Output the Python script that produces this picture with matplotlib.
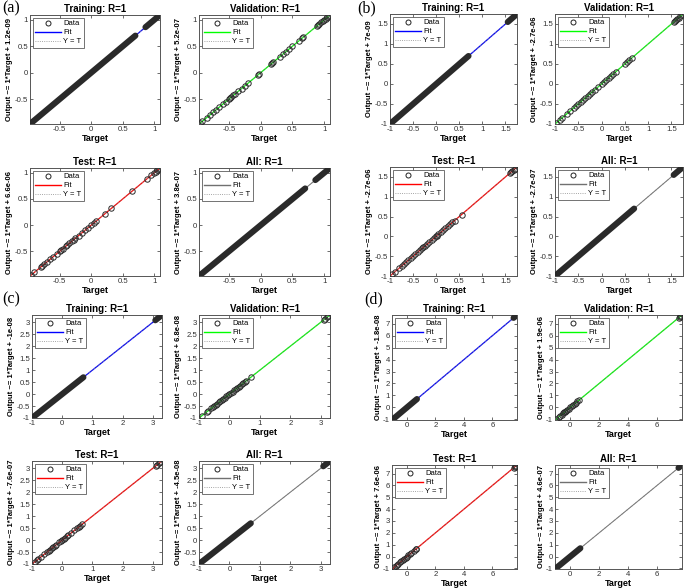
import matplotlib
matplotlib.use("Agg")
import matplotlib.pyplot as plt
from matplotlib.lines import Line2D

plt.rcParams['font.family'] = ['Liberation Sans', 'DejaVu Sans']

W, H = 685, 588

# ---------------- data ----------------
panel_names = ["a", "b", "c", "d"]
subplot_names = ["Training", "Validation", "Test", "All"]
fit_colors = {"Training": "#0000ff", "Validation": "#00ff00", "Test": "#ff0000", "All": "#707070"}

limits = {"a": (-0.97, 1.09), "b": (-1.0, 1.75), "c": (-1.0, 3.3), "d": (-1.05, 7.72)}
xticks = {"a": [-0.5, 0, 0.5, 1], "b": [-1, -0.5, 0, 0.5, 1, 1.5],
          "c": [-1, 0, 1, 2, 3], "d": [0, 2, 4, 6]}
yticks = {"a": [-0.5, 0, 0.5, 1], "b": [-1, -0.5, 0, 0.5, 1, 1.5],
          "c": [-1, -0.5, 0, 0.5, 1, 1.5, 2, 2.5, 3], "d": [-1, 0, 1, 2, 3, 4, 5, 6, 7]}

# dense target ranges (training / all), packed circles
dense_ranges = {
    "a": [(-0.96, 0.70), (0.86, 1.08)],
    "b": [(-1.00, 0.70), (1.55, 1.72)],
    "c": [(-1.00, 0.70), (3.08, 3.27)],
    "d": [(-1.00, 0.70), (7.48, 7.66)],
}

val_targets = {
    "a": [-0.95, -0.92, -0.85, -0.8, -0.75, -0.7, -0.65, -0.6, -0.55, -0.5, -0.48, -0.46,
          -0.43, -0.4, -0.35, -0.3, -0.25, -0.2, -0.05, -0.03, 0.17, 0.18, 0.2, 0.3, 0.35,
          0.4, 0.45, 0.5, 0.6, 0.65, 0.67, 0.88, 0.9, 0.92, 0.95, 0.98, 1.0, 1.02, 1.05, 1.07],
    "b": [-0.97, -0.9, -0.85, -0.75, -0.68, -0.6, -0.55, -0.5, -0.45, -0.4, -0.36, -0.3,
          -0.25, -0.2, -0.15, -0.08, 0.0, 0.05, 0.1, 0.15, 0.2, 0.25, 0.3, 0.5, 0.55, 0.6,
          0.65, 1.55, 1.58, 1.6, 1.63, 1.66, 1.69, 1.72],
    "c": [-0.9, -0.75, -0.7, -0.6, -0.55, -0.5, -0.45, -0.4, -0.35, -0.3, -0.25, -0.2, -0.15,
          -0.1, -0.05, 0.0, 0.05, 0.1, 0.15, 0.2, 0.25, 0.3, 0.35, 0.4, 0.45, 0.5, 0.55, 0.7,
          3.1, 3.15, 3.2, 3.25],
    "d": [-0.95, -0.8, -0.7, -0.6, -0.5, -0.4, -0.35, -0.3, -0.2, -0.1, 0.0, 0.1, 0.2, 0.3,
          0.4, 0.5, 0.6, 7.5, 7.55, 7.6, 7.65],
}

test_targets = {
    "a": [-0.95, -0.9, -0.8, -0.78, -0.75, -0.7, -0.65, -0.6, -0.55, -0.5, -0.48, -0.45,
          -0.4, -0.38, -0.35, -0.3, -0.28, -0.25, -0.2, -0.15, -0.1, -0.05, 0.0, 0.05, 0.08,
          0.22, 0.32, 0.65, 0.88, 0.95, 1.0, 1.02, 1.05, 1.07],
    "b": [-0.95, -0.9, -0.8, -0.75, -0.7, -0.65, -0.6, -0.55, -0.5, -0.45, -0.4, -0.35,
          -0.3, -0.28, -0.25, -0.2, -0.15, -0.1, -0.05, 0.0, 0.02, 0.05, 0.1, 0.15, 0.2,
          0.25, 0.3, 0.35, 0.4, 0.55, 1.6, 1.63, 1.65, 1.68, 1.7],
    "c": [-0.9, -0.85, -0.8, -0.7, -0.6, -0.5, -0.45, -0.4, -0.35, -0.3, -0.25, -0.2, -0.1,
          -0.05, 0.0, 0.05, 0.1, 0.15, 0.2, 0.3, 0.4, 0.5, 0.55, 0.6, 0.65, 3.1, 3.15, 3.2, 3.25],
    "d": [-0.9, -0.8, -0.7, -0.6, -0.5, -0.4, -0.3, -0.2, -0.1, 0.0, 0.1, 0.2, 0.3, 0.5,
          0.6, 0.65, 7.5, 7.55, 7.6, 7.65],
}

offsets = {
    "a": ["1.2e-09", "5.2e-07", "6.6e-06", "3.8e-07"],
    "b": ["7e-09", "-2.7e-06", "-2.7e-06", "-2.7e-07"],
    "c": ["-1e-08", "6.8e-08", "-7.6e-07", "-4.5e-08"],
    "d": ["-1.8e-08", "1.9e-06", "7.6e-06", "4.6e-07"],
}

# ---------------- layout (pixel boxes: x0, x1, y0, y1) ----------------
boxes = {
    "a": [(30, 160, 15, 124), (199, 330, 15, 124), (30, 160, 168, 276), (199, 330, 168, 276)],
    "b": [(390, 517, 14, 124), (555, 683, 14, 124), (390, 517, 167, 276), (555, 683, 167, 276)],
    "c": [(32, 162, 315, 418), (199, 330, 315, 418), (32, 162, 461, 564), (199, 330, 461, 564)],
    "d": [(392, 517, 315, 420), (555, 682, 315, 420), (392, 517, 465, 569), (555, 682, 465, 569)],
}
label_pos = {"a": (2, 0), "b": (357, 0), "c": (2, 291), "d": (364, 291)}

fig = plt.figure(figsize=(W / 100, H / 100), dpi=100)
fig.patch.set_facecolor("white")

def fmt(v):
    return "%g" % v

for p in panel_names:
    lo, hi = limits[p]
    for i, name in enumerate(subplot_names):
        x0, x1, y0, y1 = boxes[p][i]
        ax = fig.add_axes([x0 / W, 1 - y1 / H, (x1 - x0) / W, (y1 - y0) / H])
        ax.set_xlim(lo, hi)
        ax.set_ylim(lo, hi)
        col = fit_colors[name]
        ax.plot([lo, hi], [lo, hi], color=col, lw=0.9 if name != "All" else 0.7, zorder=2)
        ax.plot([lo, hi], [lo, hi], color="#888888", lw=0.6, linestyle=":", zorder=2.5)
        if name in ("Training", "All"):
            for a, b in dense_ranges[p]:
                ax.plot([a, b], [a, b], color="#2a2a2a", lw=4.4, solid_capstyle="round", zorder=3)
        else:
            t = val_targets[p] if name == "Validation" else test_targets[p]
            ax.plot(t, t, linestyle="none", marker="o", markersize=3.9, mfc="none",
                    mec="#2a2a2a", mew=0.7, zorder=3)
        ax.set_xticks(xticks[p])
        ax.set_yticks(yticks[p])
        ax.set_xticklabels([fmt(v) for v in xticks[p]])
        ax.set_yticklabels([fmt(v) for v in yticks[p]])
        ax.tick_params(direction="in", length=2, width=0.5, labelsize=5.6,
                       top=True, right=True, pad=1.5, colors="#333333", labelcolor="#333333")
        for s in ax.spines.values():
            s.set_linewidth(0.7)
            s.set_color("#555555")
        ax.set_title(f"{name}: R=1", fontsize=7, fontweight="bold", pad=2.5)
        ax.set_xlabel("Target", fontsize=6.5, fontweight="bold", labelpad=0.5)
        ax.set_ylabel(f"Output ~= 1*Target + {offsets[p][i]}", fontsize=5.5,
                      fontweight="bold", labelpad=1)
        handles = [
            Line2D([], [], linestyle="none", marker="o", markersize=3.6, mfc="none",
                   mec="#222222", mew=0.7),
            Line2D([], [], color=col, lw=1.0),
            Line2D([], [], color="#888888", lw=0.6, linestyle=":"),
        ]
        leg = ax.legend(handles, ["Data", "Fit", "Y = T"], loc="upper left", fontsize=5.5,
                        frameon=True, fancybox=False, borderpad=0.3, handlelength=3.4,
                        labelspacing=0.22, handletextpad=0.3, borderaxespad=0.35)
        leg.get_frame().set_edgecolor("#333333")
        leg.get_frame().set_linewidth(0.6)
        leg.set_zorder(5)
    lx, ly = label_pos[p]
    fig.text(lx / W, 1 - ly / H, f"({p})", fontsize=11.5, family="Liberation Serif",
             va="top", ha="left")

fig.savefig("out.png", dpi=100, facecolor="white")
